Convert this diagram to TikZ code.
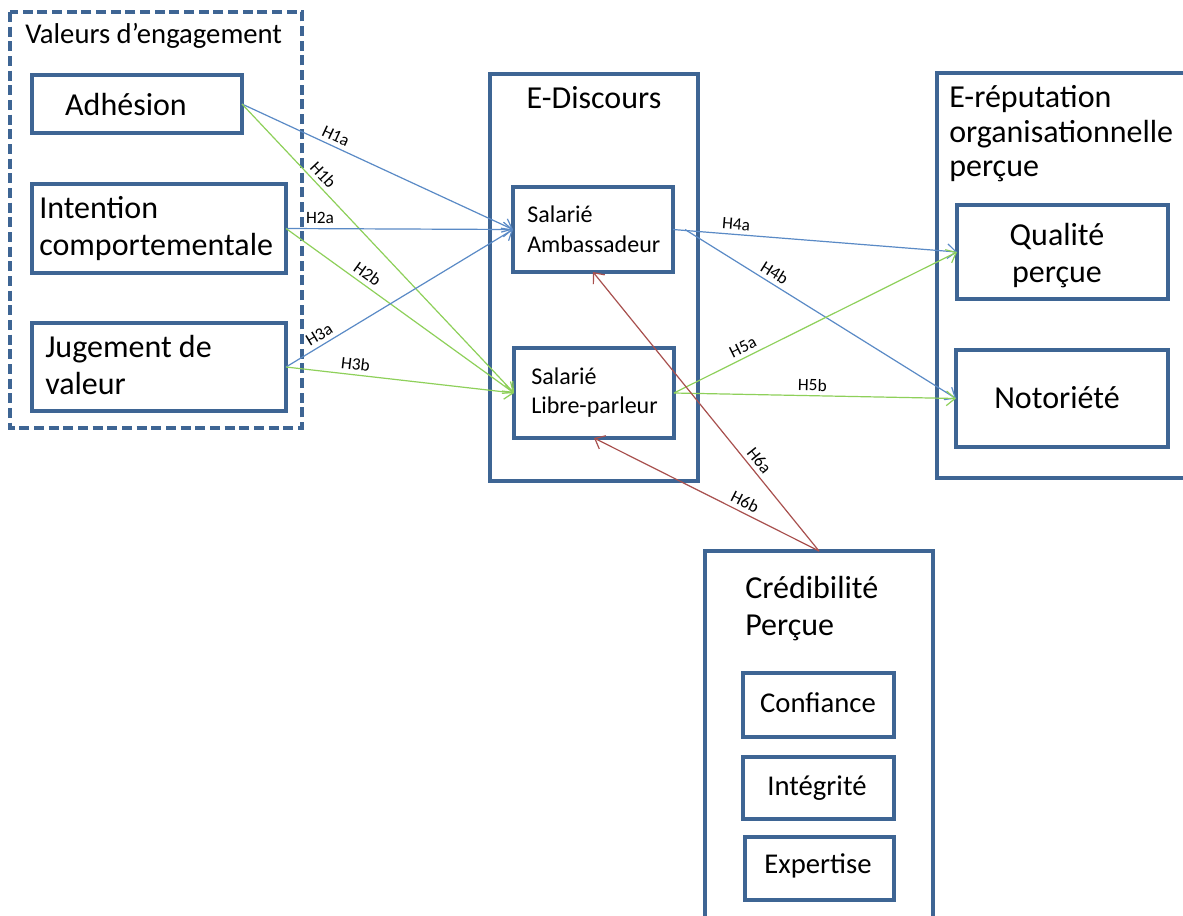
\documentclass[tikz,border=0pt]{standalone}
\usepackage{fontspec}
\setmainfont{Carlito}
\usetikzlibrary{arrows.meta}
\definecolor{boxc}{HTML}{3E6594}
\definecolor{bluel}{HTML}{5A8AC6}
\definecolor{greenl}{HTML}{8ED05A}
\definecolor{redl}{HTML}{A8504E}
\tikzset{
  box/.style={draw=boxc, line width=2.3pt, inner sep=0pt, outer sep=0pt, rectangle},
  pbox/.style args={#1/#2/#3/#4}{box, minimum width={(#3-#1)*0.75pt}, minimum height={(#4-#2)*0.75pt}, at={({(#1+#3)/2},{(#2+#4)/2})}},
  tmain/.style={font=\fontsize{24}{28}\selectfont, inner sep=0pt},
  tmid/.style={font=\fontsize{21.5}{25}\selectfont, inner sep=0pt},
  tsmall/.style={font=\fontsize{18}{22}\selectfont, inner sep=0pt},
  lab/.style={font=\fontsize{13}{15}\selectfont, inner sep=0pt, outer sep=3.5pt, sloped, above},
  conn/.style={line width=0.9pt, -{Straight Barb[length=6.5pt,width=11pt,line width=0.9pt]}},
  bconn/.style={conn, draw=bluel},
  gconn/.style={conn, draw=greenl},
  rconn/.style={conn, draw=redl},
}
\begin{document}
\begin{tikzpicture}[x=0.75pt,y=-0.75pt]
\clip (0,0) rectangle (1183,915);
\fill[white] (0,0) rectangle (1183,915);

% left group
\draw[draw=boxc, line width=2.3pt, dash pattern=on 7.5pt off 3.5pt] (10,12) rectangle (302,428);
\node[tmid, anchor=base west] (tval) at (25,43) {Valeurs d’engagement};
\node[pbox=32/75/242/133] (adh) {};
\node[tmain, anchor=base] (tadh) at (126,115) {Adhésion};
\node[pbox=32/184/286/273] (int) {};
\node[tmain, anchor=base west] (tint1) at (39,218) {Intention};
\node[tmain, anchor=base west] (tint2) at (39,255) {comportementale};
\node[pbox=32/323/286/411] (jug) {};
\node[tmain, anchor=base west] (tjug1) at (45,357) {Jugement de};
\node[tmain, anchor=base west] (tjug2) at (45,394) {valeur};

% E-Discours
\node[pbox=490/74/698/481] (disc) {};
\node[tmain, anchor=base] (tdisc) at (594,108) {E-Discours};
\node[pbox=513/187/673/272] (amb) {};
\node[tsmall, anchor=base west] (tamb1) at (527,222) {Salarié};
\node[tsmall, anchor=base west] (tamb2) at (527,252) {Ambassadeur};
\node[pbox=514/348/674/438] (lib) {};
\node[tsmall, anchor=base west] (tlib1) at (531,384) {Salarié};
\node[tsmall, anchor=base west] (tlib2) at (531,413) {Libre-parleur};

% E-reputation
\node[pbox=937/73/1200/478] (rep) {};
\node[tmain, anchor=base west] (trep1) at (949,107) {E-réputation};
\node[tmain, anchor=base west] (trep2) at (949,142) {organisationnelle};
\node[tmain, anchor=base west] (trep3) at (949,176) {perçue};
\node[pbox=957/205/1168/299] (qual) {};
\node[tmain, anchor=base] (tqual1) at (1057,245) {Qualité};
\node[tmain, anchor=base] (tqual2) at (1057,282) {perçue};
\node[pbox=956/350/1168/447] (noto) {};
\node[tmain, anchor=base] (tnoto) at (1057,408) {Notoriété};

% Credibilite
\node[pbox=705/551/933/940] (cred) {};
\node[tmain, anchor=base west] (tcred1) at (745,598) {Crédibilité};
\node[tmain, anchor=base west] (tcred2) at (745,635) {Perçue};
\node[pbox=743/673/894/737] (conf) {};
\node[tmid, anchor=base] (tconf) at (818,712) {Confiance};
\node[pbox=743/757/894/819] (integ) {};
\node[tmid, anchor=base] (tinteg) at (817,795) {Intégrité};
\node[pbox=745/837/894/900] (expe) {};
\node[tmid, anchor=base] (texpe) at (818,873) {Expertise};

% connectors
\draw[bconn] (adh.east) -- node[lab, pos=.33] {H1a} (amb.west);
\draw[gconn] (adh.east) -- node[lab, pos=.27] {H1b} (lib.west);
\draw[bconn] (int.east) -- node[lab, pos=.15] {H2a} (amb.west);
\draw[gconn] (int.east) -- node[lab, pos=.33] {H2b} (lib.west);
\draw[bconn] (jug.east) -- node[lab, pos=.17] {H3a} (amb.west);
\draw[gconn] (jug.east) -- node[lab, pos=.3] {H3b} (lib.west);
\draw[bconn] (amb.east) -- node[lab, pos=.22] {H4a} (qual.west);
\draw[bconn] ([xshift=9pt]amb.east) -- node[lab, pos=.31] {H4b} (noto.west);
\draw[gconn] (lib.east) -- node[lab, pos=.26] {H5a} (qual.west);
\draw[gconn] (lib.east) -- node[lab, pos=.49] {H5b} (noto.west);
\draw[rconn] (cred.north) -- node[lab, pos=.3] {H6a} (amb.south);
\draw[rconn] (cred.north) -- node[lab, pos=.35] {H6b} (lib.south);
\end{tikzpicture}
\end{document}
